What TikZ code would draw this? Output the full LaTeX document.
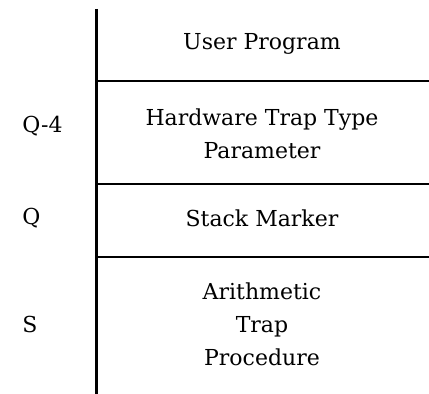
\documentclass[tikz,border=0pt]{standalone}
\usepackage{fontspec}
\setmainfont{DejaVu Serif}
\usepackage{tikz}
\usetikzlibrary{positioning}
\tikzstyle{entry} = [text centered, align=center, font=\fontsize{11}{16.5}\selectfont, inner sep=0pt]
\tikzstyle{addr} = [anchor=west, font=\fontsize{11}{16.5}\selectfont, inner sep=0pt]
\tikzstyle{rule} = [line width=1pt]

\begin{document}
\begin{tikzpicture}[x=0.5pt, y=-0.5pt]
\useasboundingbox (0,0) rectangle (429,394);
\coordinate (top) at (96,9);
\coordinate (bottom) at (96,394);
\draw [line width=1.5pt] (top) -- (bottom);
\draw [rule] (96,81) -- (429,81);
\draw [rule] (96,184) -- (429,184);
\draw [rule] (96,257) -- (429,257);

\node (user) [entry] at (262,44) {User Program};
\node (hwtrap) [entry] at (262,134) {Hardware Trap Type\\Parameter};
\node (marker) [entry] at (262,218) {Stack Marker};
\node (proc) [entry] at (262,324) {Arithmetic\\Trap\\Procedure};

\node (q4) [addr] at (22,126) {Q-4};
\node (q) [addr] at (22,218) {Q};
\node (s) [addr] at (22,324) {S};
\end{tikzpicture}
\end{document}
